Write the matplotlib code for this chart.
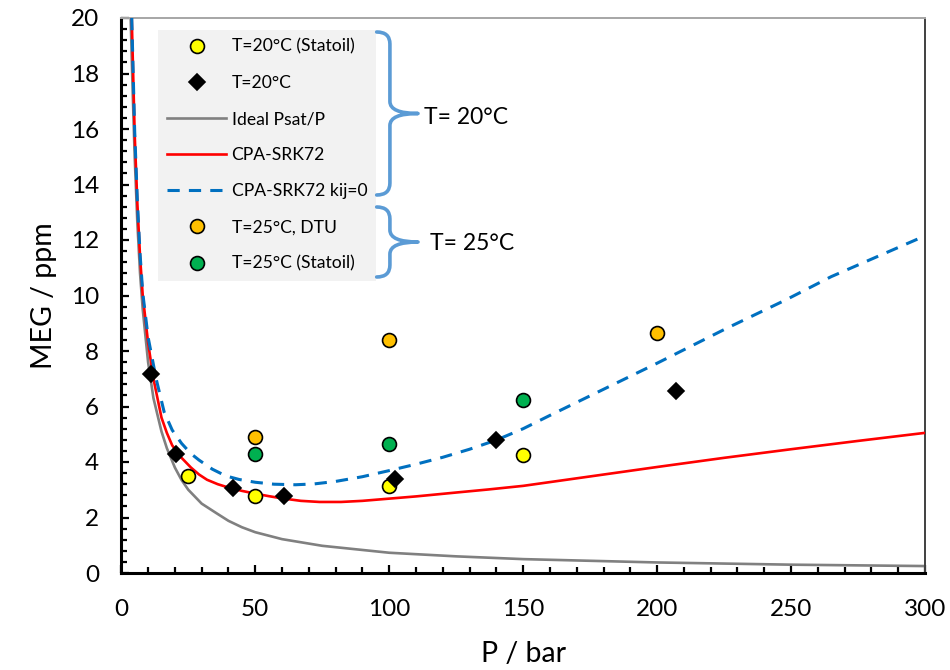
import matplotlib
matplotlib.use("Agg")
import matplotlib.pyplot as plt
from matplotlib.path import Path
from matplotlib.patches import PathPatch
from matplotlib.ticker import MultipleLocator
from matplotlib.lines import Line2D

plt.rcParams["font.family"] = ["Lato", "DejaVu Sans"]

# experimental points
p_yellow = [25, 50, 100, 150]
m_yellow = [3.50, 2.79, 3.14, 4.25]

p_black = [11.0, 20.3, 41.8, 60.8, 102.0, 140.0, 207.2]
m_black = [7.16, 4.28, 3.05, 2.77, 3.38, 4.78, 6.57]

p_orange = [50, 100, 200]
m_orange = [4.89, 8.40, 8.65]

p_green = [50, 100, 150]
m_green = [4.30, 4.65, 6.23]

# model curves
p_ideal = [3.5, 4.2, 5, 6, 7, 8, 10, 12, 15, 17, 20, 22.5, 25, 30, 35.6, 40, 45, 50,
           60, 75, 100, 125, 150, 200, 250, 300]
m_ideal = [20, 17.5, 15.0, 12.6, 10.8, 9.5, 7.6, 6.3, 5.1, 4.5, 3.8, 3.35, 3.0, 2.5,
           2.15, 1.88, 1.65, 1.47, 1.22, 0.98, 0.73, 0.6, 0.5, 0.38, 0.3, 0.25]

p_cpa = [3.9, 5, 6, 7, 8, 10, 12, 15, 17, 19, 22, 26, 29, 32, 36, 40, 45, 50, 55, 60,
         67, 74, 82, 90, 100, 110, 125, 137, 150, 175, 200, 225, 250, 275, 300]
m_cpa = [20, 15.8, 13.3, 11.4, 10.0, 8.3, 7.0, 5.6, 5.05, 4.6, 4.2, 3.8, 3.55, 3.36,
         3.2, 3.08, 2.96, 2.86, 2.77, 2.69, 2.6, 2.56, 2.56, 2.6, 2.68, 2.76, 2.9, 3.01,
         3.14, 3.48, 3.82, 4.15, 4.46, 4.76, 5.05]

p_kij0 = [3.9, 5, 6, 7, 8, 10, 13, 16, 19, 22.5, 26, 29, 34, 39, 44, 50, 57, 65, 72,
          80, 90, 100, 110, 120, 130, 140, 150, 160, 180, 200, 226, 248, 265, 300]
m_kij0 = [20, 15.9, 13.4, 11.5, 10.1, 8.5, 7.0, 5.8, 5.15, 4.67, 4.3, 4.07, 3.74, 3.5,
          3.37, 3.27, 3.2, 3.18, 3.21, 3.3, 3.47, 3.69, 3.92, 4.17, 4.46, 4.79, 5.2,
          5.68, 6.62, 7.56, 8.82, 9.84, 10.68, 12.15]

W, H = 950, 670
fig = plt.figure(figsize=(9.5, 6.7), dpi=100)
ax = fig.add_axes([121.3 / W, 1 - 573 / H, (925 - 121.3) / W, (573 - 18) / H])

ax.plot(p_ideal, m_ideal, color="#808080", lw=1.9, zorder=2)
ax.plot(p_cpa, m_cpa, color="#FF0000", lw=1.9, zorder=3)
ax.plot(p_kij0, m_kij0, color="#0070C0", lw=2.2, dashes=(4, 3), zorder=3)

mk = dict(ls="none", markeredgecolor="black", markeredgewidth=1.2, zorder=4)
ax.plot(p_yellow, m_yellow, marker="o", ms=10, color="#FFFF00", **mk)
ax.plot(p_black, m_black, marker="D", ms=8, color="black", **mk)
ax.plot(p_orange, m_orange, marker="o", ms=10, color="#FFC000", **mk)
ax.plot(p_green, m_green, marker="o", ms=10, color="#00B050", **mk)

ax.set_xlim(0, 300)
ax.set_ylim(0, 20)
ax.xaxis.set_major_locator(MultipleLocator(50))
ax.xaxis.set_minor_locator(MultipleLocator(10))
ax.yaxis.set_major_locator(MultipleLocator(2))
ax.yaxis.set_minor_locator(MultipleLocator(0.4))
ax.tick_params(which="both", direction="in", width=1.6, labelsize=17.5, top=False, right=False)
ax.tick_params(axis="x", which="major", length=6, pad=19)
ax.tick_params(axis="y", which="major", length=6, pad=16)
ax.tick_params(which="minor", length=4.5)

for s in ("left", "bottom"):
    ax.spines[s].set_linewidth(2.2)
    ax.spines[s].set_color("black")
ax.spines["top"].set_color("#a6a6a6")
ax.spines["top"].set_linewidth(1.4)
ax.spines["right"].set_color("#404040")
ax.spines["right"].set_linewidth(1.4)

ax.set_xlabel("P / bar", fontsize=20.5, labelpad=15)
ax.set_ylabel("MEG / ppm", fontsize=20.5, labelpad=10)

handles = [
    Line2D([], [], marker="o", ms=10, color="#FFFF00", **mk),
    Line2D([], [], marker="D", ms=8, color="black", **mk),
    Line2D([], [], color="#808080", lw=1.9),
    Line2D([], [], color="#FF0000", lw=1.9),
    Line2D([], [], color="#0070C0", lw=2.2, dashes=(4, 3)),
    Line2D([], [], marker="o", ms=10, color="#FFC000", **mk),
    Line2D([], [], marker="o", ms=10, color="#00B050", **mk),
]
labels = ["T=20°C (Statoil)", "T=20°C", "Ideal Psat/P", "CPA-SRK72",
          "CPA-SRK72 kij=0", "T=25°C, DTU", "T=25°C (Statoil)"]
leg = ax.legend(handles, labels, loc="upper left",
                bbox_to_anchor=(158 / W, 1 - 30 / H), bbox_transform=fig.transFigure,
                borderaxespad=0, fontsize=12.6, handlelength=3.4, handletextpad=0.3,
                labelspacing=1.15, borderpad=0.5, fancybox=False, frameon=True)
leg.get_frame().set_facecolor("#f2f2f2")
leg.get_frame().set_edgecolor("none")
leg.get_frame().set_alpha(1)


def brace(y_top, y_bot, x0=376.7, w=41.3):
    # right-facing curly brace in figure pixel coordinates (y from top)
    ym = (y_top + y_bot) / 2
    xs = x0 + w * 0.32
    r = 12
    verts = [
        (x0, y_top), (xs, y_top), (xs, y_top + r),
        (xs, ym - r), (xs, ym), (x0 + w, ym),
        (xs, ym), (xs, ym + r),
        (xs, y_bot - r), (xs, y_bot), (x0, y_bot),
    ]
    codes = [Path.MOVETO, Path.CURVE3, Path.CURVE3,
             Path.LINETO, Path.CURVE3, Path.CURVE3,
             Path.CURVE3, Path.CURVE3,
             Path.LINETO, Path.CURVE3, Path.CURVE3]
    verts = [(x / W, 1 - y / H) for x, y in verts]
    fig.add_artist(PathPatch(Path(verts, codes), transform=fig.transFigure,
                             fill=False, edgecolor="#5B9BD5", lw=2.6,
                             capstyle="round", joinstyle="round"))


brace(32, 195)
brace(207, 277)
fig.text(424 / W, 1 - 118 / H, "T= 20°C", fontsize=16.5, va="center", ha="left")
fig.text(430 / W, 1 - 243 / H, "T= 25°C", fontsize=16.5, va="center", ha="left")

fig.savefig("out.png", dpi=100)
